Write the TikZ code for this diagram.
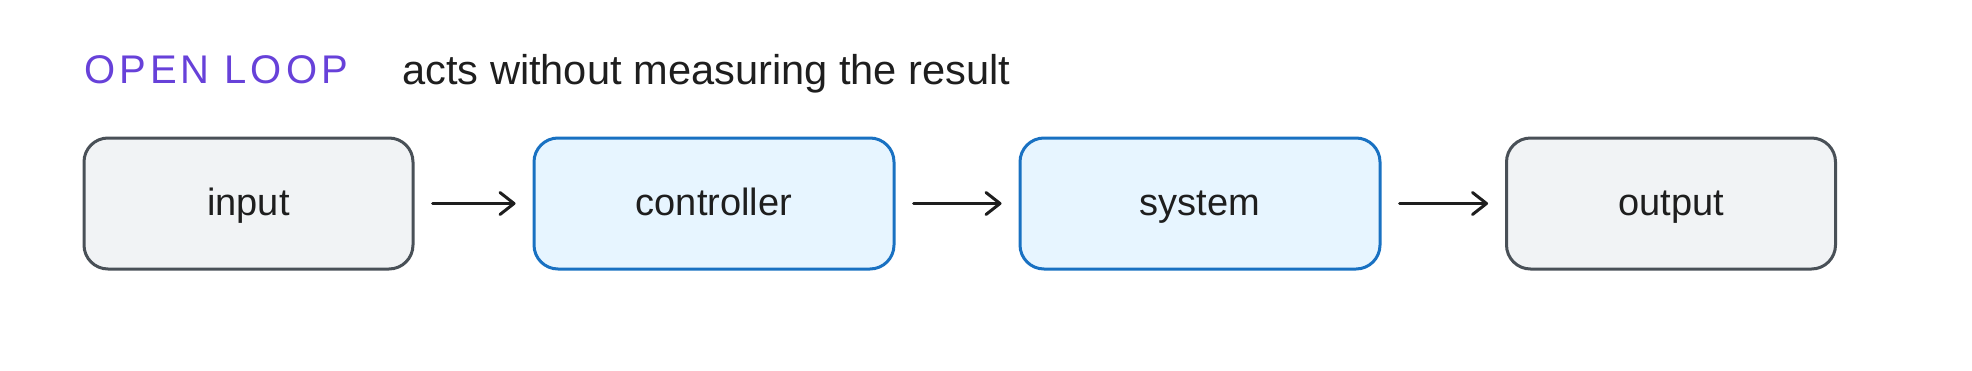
\documentclass[tikz,border=0pt]{standalone}
\usepackage{fontspec}
\setmainfont{Liberation Sans}
\newfontfamily\titlefont[LetterSpace=10]{Liberation Sans}
\usetikzlibrary{arrows.meta}
\definecolor{violetT}{HTML}{6741D9}
\definecolor{grayS}{HTML}{495057}
\definecolor{grayF}{HTML}{F1F3F5}
\definecolor{blueS}{HTML}{1971C2}
\definecolor{blueF}{HTML}{E7F5FF}
\definecolor{inkC}{HTML}{1E1E1E}
\tikzset{
  boxbase/.style={rounded corners=24pt, line width=3pt, minimum height=131pt,
    text height=23pt, text depth=0pt, inner sep=0pt, font=\fontsize{38}{44}\selectfont, text=inkC},
  graybox/.style={boxbase, draw=grayS, fill=grayF, minimum width=329pt},
  bluebox/.style={boxbase, draw=blueS, fill=blueF, minimum width=360pt},
  flow/.style={draw=inkC, line width=3pt, line cap=round,
    -{Straight Barb[length=14pt,width=22pt,line width=3pt,round]}}
}
\begin{document}
\begin{tikzpicture}[x=1pt,y=-1pt]
\useasboundingbox (0,0) rectangle (1972,370);
\node[anchor=base west, inner sep=0pt, text=violetT, font=\titlefont\fontsize{40}{46}\selectfont] (title) at (84,83) {OPEN LOOP};
\node[anchor=base west, inner sep=0pt, text=inkC, font=\fontsize{41.6}{48}\selectfont] (sub) at (402,84) {acts without measuring the result};
\node[graybox] (in) at (248.5,203.5) {input};
\node[bluebox] (ctrl) at (714,203.5) {controller};
\node[bluebox] (sys) at (1200,203.5) {system};
\node[graybox] (out) at (1671,203.5) {output};
\draw[flow] ([xshift=18pt]in.east) -- ([xshift=-17pt]ctrl.west);
\draw[flow] ([xshift=18pt]ctrl.east) -- ([xshift=-17pt]sys.west);
\draw[flow] ([xshift=18pt]sys.east) -- ([xshift=-17pt]out.west);
\end{tikzpicture}
\end{document}
